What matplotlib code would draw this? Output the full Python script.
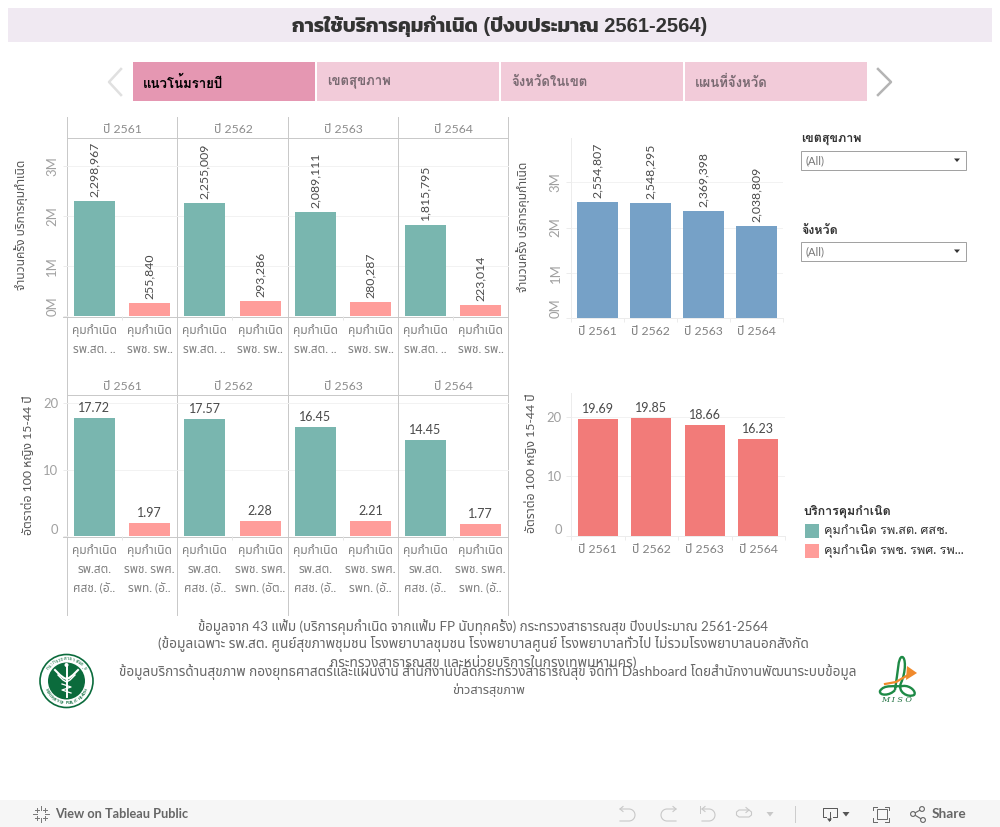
import matplotlib
matplotlib.use('Agg')
import matplotlib.pyplot as plt
from matplotlib.patches import Rectangle, Circle, Polygon, PathPatch
from matplotlib.path import Path
from matplotlib.ticker import FuncFormatter
import numpy as np

plt.rcParams['font.family'] = ['Lato', 'Noto Sans Thai', 'Loma', 'DejaVu Sans']
TITLE_FONT = ['Liberation Sans', 'Kanit', 'Loma', 'DejaVu Sans']
LOOPED = ['Lato', 'Loma', 'Noto Sans Thai', 'DejaVu Sans']

W, H = 1000, 827

# data
title = 'การใช้บริการคุมกำเนิด (ปีงบประมาณ 2561-2564)'
tabs = ['แนวโน้มรายปี', 'เขตสุขภาพ', 'จังหวัดในเขต', 'แผนที่จังหวัด']
years = ['ปี 2561', 'ปี 2562', 'ปี 2563', 'ปี 2564']

count_pcu = [2298967, 2255009, 2089111, 1815795]
count_hosp = [255840, 293286, 280287, 223014]
rate_pcu = [17.72, 17.57, 16.45, 14.45]
rate_hosp = [1.97, 2.28, 2.21, 1.77]
count_total = [2554807, 2548295, 2369398, 2038809]
rate_total = [19.69, 19.85, 18.66, 16.23]

count_ticks = [0, 1000000, 2000000, 3000000]
rate_ticks = [0, 10, 20]

labels_count = ['คุมกำเนิด\nรพ.สต. ..', 'คุมกำเนิด\nรพช. รพ..']
labels_rate = [
    ['คุมกำเนิด\nรพ.สต.\nศสช. (อั..', 'คุมกำเนิด\nรพช. รพศ.\nรพท. (อั..'],
    ['คุมกำเนิด\nรพ.สต.\nศสช. (อั..', 'คุมกำเนิด\nรพช. รพศ.\nรพท. (อัต..'],
    ['คุมกำเนิด\nรพ.สต.\nศสช. (อั..', 'คุมกำเนิด\nรพช. รพศ.\nรพท. (อั..'],
    ['คุมกำเนิด\nรพ.สต.\nศสช. (อั..', 'คุมกำเนิด\nรพช. รพศ.\nรพท. (อั..'],
]
ylabel_count = 'จำนวนครั้ง บริการคุมกำเนิด'
ylabel_rate = 'อัตราต่อ 100 หญิง 15-44 ปี'
legend_title = 'บริการคุมกำเนิด'
legend_items = ['คุมกำเนิด รพ.สต. ศสช.', 'คุมกำเนิด รพช. รพศ. รพ...']
notes = [
    'ข้อมูลจาก 43 แฟ้ม (บริการคุมกำเนิด จากแฟ้ม FP นับทุกครั้ง) กระทรวงสาธารณสุข ปีงบประมาณ 2561-2564',
    '(ข้อมูลเฉพาะ รพ.สต. ศูนย์สุขภาพชุมชน โรงพยาบาลชุมชน โรงพยาบาลศูนย์ โรงพยาบาลทั่วไป ไม่รวมโรงพยาบาลนอกสังกัด',
    'กระทรวงสาธารณสุข และหน่วยบริการในกรุงเทพมหานคร)',
    'ข้อมูลบริการด้านสุขภาพ กองยุทธศาสตร์และแผนงาน สำนักงานปลัดกระทรวงสาธารณสุข จัดทำ Dashboard โดยสำนักงานพัฒนาระบบข้อมูล',
    'ข่าวสารสุขภาพ',
]

TEAL = '#79b6af'
PINK = '#ff9d9a'
BLUE = '#76a1c7'
RED = '#f27b79'
GRID = '#f2f2f2'
LINE = '#c8c8c8'
TICK = '#a0a0a0'
DARK = '#4a4a4a'

fig = plt.figure(figsize=(W / 100, H / 100), dpi=100, facecolor='white')

# everything around the charts is placed in pixels on a full size axes
bg = fig.add_axes([0, 0, 1, 1], zorder=0)
bg.set_xlim(0, W)
bg.set_ylim(H, 0)
bg.axis('off')


def px_axes(x0, y0, x1, y1):
    ax = fig.add_axes([x0 / W, 1 - y1 / H, (x1 - x0) / W, (y1 - y0) / H], zorder=2)
    ax.patch.set_alpha(0)
    for s in ax.spines.values():
        s.set_visible(False)
        s.set_linewidth(0.7)
    ax.set_axisbelow(True)
    ax.grid(axis='y', color=GRID, lw=0.7)
    return ax


def m_fmt(v, pos):
    return '%dM' % round(v / 1e6)


def style_y(ax, ticks, ymax, rotate):
    ax.set_ylim(0, ymax)
    ax.set_yticks(ticks)
    if rotate:
        ax.yaxis.set_major_formatter(FuncFormatter(m_fmt))
    ax.tick_params(axis='y', length=3.6, width=0.7, color='#ececec', labelcolor=TICK,
                   labelsize=9.4, pad=3)
    for t in ax.get_yticklabels():
        if rotate:
            t.set_rotation(90)
            t.set_va('center')
    # lowest label sits above the baseline, as tableau does it
    ax.get_yticklabels()[0].set_va('bottom')


# ---- left small multiples
edges = [67.5, 177.5, 288.5, 398.5, 508.5]
for row, (top, base, ymax, a, b, ticks, fmt) in enumerate([
        (137.5, 316, 3.57e6, count_pcu, count_hosp, count_ticks, '{:,.0f}'),
        (394.5, 536, 21.28, rate_pcu, rate_hosp, rate_ticks, '{:.2f}')]):
    for i in range(4):
        ax = px_axes(edges[i], top, edges[i + 1], base)
        vals = [a[i], b[i]]
        ax.bar([0, 1], vals, width=0.745, color=[TEAL, PINK], zorder=2)
        ax.set_xlim(-0.49, 1.51)
        ax.set_xticks([0, 1])
        ax.set_xticks([0.5], minor=True)
        ax.tick_params(axis='x', which='minor', length=3, width=0.7, color='#e6e6e6')
        if row == 0:
            ax.set_xticklabels(labels_count)
        else:
            ax.set_xticklabels(labels_rate[i])
        ax.tick_params(axis='x', which='major', length=0, labelcolor='#808080',
                       labelsize=8.6, pad=6)
        for t in ax.get_xticklabels():
            t.set_linespacing(1.78)
        style_y(ax, ticks, ymax, row == 0)
        if i > 0:
            ax.tick_params(axis='y', left=False, labelleft=False)
        ax.set_title(years[i], color='#8c8c8c', fontsize=8.8, pad=3.5)
        for x, v in zip([0, 1], vals):
            if row == 0:
                ax.annotate(fmt.format(v), (x, v), xytext=(0, 4), textcoords='offset pixels',
                            rotation=90, ha='center', va='bottom', color=DARK, fontsize=8.8)
            else:
                ax.annotate(fmt.format(v), (x, v), xytext=(0, 4), textcoords='offset pixels',
                            ha='center', va='bottom', color=DARK, fontsize=9)
        if i == 0:
            ax.set_ylabel(ylabel_count if row == 0 else ylabel_rate, color='#555555',
                          fontsize=8.6 if row == 0 else 8.8, va='center')
            ax.yaxis.set_label_coords(21 if row == 0 else 28, 225 if row == 0 else 465,
                                      transform=bg.transData)

# line positions are one pixel line each, agg snaps them
for x in [67, 177, 288, 398, 508]:
    bg.plot([x, x], [117, 615], color=LINE, lw=0.7)
for y in [138, 395]:
    bg.plot([67, 508], [y, y], color=LINE, lw=0.7)
for y in [317, 537]:
    bg.plot([63, 508], [y, y], color=LINE, lw=0.7, zorder=5)

# ---- right totals
for (top, base, x1, ymax, vals, col, ticks, fmt, rot, ylab, lx, ly) in [
        (138, 318, 783, 3.98e6, count_total, BLUE, count_ticks, '{:,.0f}', True, ylabel_count, 523, 227),
        (393, 536, 785, 24.0, rate_total, RED, rate_ticks, '{:.2f}', False, ylabel_rate, 531, 463)]:
    ax = px_axes(571, top, x1, base)
    x = np.arange(4)
    ax.bar(x, vals, width=0.755, color=col, zorder=2)
    ax.set_xlim(-0.5, 3.5)
    ax.set_xticks(x)
    ax.set_xticklabels(years)
    ax.set_xticks(np.arange(-0.5, 4), minor=True)
    ax.tick_params(axis='x', which='minor', length=3, width=0.7, color='#ececec')
    ax.tick_params(axis='x', which='major', length=0, labelcolor='#808080', labelsize=8.8, pad=6)
    style_y(ax, ticks, ymax, rot)
    ax.spines['left'].set_visible(True)
    ax.spines['left'].set_color('#ececec')
    ax.spines['bottom'].set_visible(True)
    ax.spines['bottom'].set_color('#ececec')
    for xi, v in zip(x, vals):
        ax.annotate(fmt.format(v), (xi, v), xytext=(0, 4), textcoords='offset pixels',
                    rotation=90 if rot else 0, ha='center', va='bottom', color=DARK,
                    fontsize=8.8 if rot else 9)
    ax.set_ylabel(ylab, color='#555555', fontsize=8.6 if rot else 8.8, va='center')
    ax.yaxis.set_label_coords(lx, ly, transform=bg.transData)

# ---- title band and tabs
bg.add_patch(Rectangle((8, 8), 984, 34, color='#f0e9f2', lw=0))
bg.text(500, 26, title, ha='center', va='center', fontsize=14.5, fontweight='bold',
        color='#333333', family=TITLE_FONT)
tab_x = [133, 317, 501, 685]
for i, (x, s) in enumerate(zip(tab_x, tabs)):
    bg.add_patch(Rectangle((x, 62), 182, 39, color='#e597b2' if i == 0 else '#f2cbd9', lw=0))
    bg.text(x + 10, 82, s, ha='left', va='center', fontsize=9.5, fontweight='bold',
            color='black' if i == 0 else '#7a6a72', family=LOOPED)
bg.plot([121, 109, 121], [69, 82, 95], color='#e0e0e0', lw=1.8)
bg.plot([878, 891, 878], [69, 82, 95], color='#b4b4b4', lw=1.8)

# ---- filters
for y, s in [(139, 'เขตสุขภาพ'), (230, 'จังหวัด')]:
    bg.text(801, y, s, ha='left', va='center', fontsize=9, fontweight='bold', color='#333333',
            family=LOOPED)
    bg.add_patch(Rectangle((801, y + 12), 165, 18.5, fc='white', ec='#a0a0a0', lw=0.7))
    bg.text(805, y + 21.5, '(All)', ha='left', va='center', fontsize=8, color='#777777')
    bg.add_patch(Polygon([[954, y + 19.5], [960, y + 19.5], [957, y + 23]], color='#333333', lw=0))

# ---- legend
bg.text(803, 511, legend_title, ha='left', va='center', fontsize=9, fontweight='bold',
        color='#333333', family=LOOPED)
for y, c, s in zip([524, 544], [TEAL, PINK], legend_items):
    bg.add_patch(Rectangle((805, y), 14, 14, color=c, lw=0))
    bg.text(824, y + 7.5, s, ha='left', va='center', fontsize=9.1, color='#333333', family=LOOPED)

# ---- notes
for y, s, cx, fs in zip([627, 644, 663, 672, 690], notes, [483, 483, 483, 488, 489],
                        [9.6, 9.85, 9.9, 9.75, 9.2]):
    bg.text(cx, y, s, ha='center', va='center', fontsize=fs, color='#666666')

# ---- ministry logo
GREEN = '#0b6b3c'
lc = (66.5, 681)
bg.add_patch(Circle(lc, 26.5, fc='white', ec=GREEN, lw=1.2))
bg.add_patch(Circle(lc, 18.5, fc=GREEN, ec='none'))
bg.plot([66.5, 66.5], [666, 697], color='white', lw=1.4)
bg.plot([55, 60, 64, 66.5, 69, 73, 78], [670, 675, 678, 679, 678, 675, 670], color='white', lw=1.5)
bg.plot([58, 63, 66.5, 70, 75], [675, 680, 682, 680, 675], color='white', lw=1.0)
bg.plot([62, 71, 62, 71], [684, 687, 690, 693], color='white', lw=0.9)
bg.add_patch(Circle((66.5, 665), 2, fc='white', ec='none'))
for ang, ch in zip(np.linspace(145, 35, 16), 'กระทรวงสาธารณสุข'):
    bg.text(lc[0] + 22.3 * np.cos(np.radians(ang)), lc[1] - 22.3 * np.sin(np.radians(ang)), ch,
            color=GREEN, fontsize=3.4, rotation=ang - 90, ha='center', va='center', fontweight='bold')
for ang, ch in zip(np.linspace(205, 335, 25), 'MINISTRY OF PUBLIC HEALTH'):
    bg.text(lc[0] + 22.3 * np.cos(np.radians(ang)), lc[1] - 22.3 * np.sin(np.radians(ang)), ch,
            color=GREEN, fontsize=2.8, rotation=ang + 90, ha='center', va='center', fontweight='bold')

# ---- MISO logo
ORANGE = '#f08a2c'
MISO = '#1e8a46'
bg.plot([885, 896, 908], [684, 682, 675], color=ORANGE, lw=1.6)
bg.add_patch(Polygon([[907, 666], [917, 673], [906, 680]], color=ORANGE, lw=0))
verts = [(895, 690), (898, 672), (898, 657), (902, 657), (906, 657), (906, 672), (901, 683),
         (897, 692), (908, 698), (914, 695), (917, 692), (910, 685), (903, 686),
         (895, 687), (884, 684), (880, 691), (879, 696), (890, 696), (895, 690)]
codes = [Path.MOVETO] + [Path.CURVE4] * 18
bg.add_patch(PathPatch(Path(verts, codes), fc='none', ec=MISO, lw=1.7))
bg.text(897, 699.5, 'M I S O', ha='center', va='center', fontsize=5.8, style='italic',
        family='DejaVu Serif', color='#1b6e3c')

# ---- toolbar
bg.add_patch(Rectangle((0, 800), W, 27, color='#f6f6f6', lw=0))
bg.text(55, 814, 'View on Tableau Public', ha='left', va='center', fontsize=9.2,
        fontweight='bold', color='#666666')
for dx, dy in [(0, -7), (0, 7), (-7, 0), (7, 0)]:
    bg.plot([41 + dx * 0.6, 41 + dx * 1.15], [814 + dy * 0.6, 814 + dy * 1.15], color='#777777', lw=0.7)
for dx, dy in [(-4, -4), (4, -4), (-4, 4), (4, 4)]:
    bg.plot([41 + dx - 1.8, 41 + dx + 1.8], [814 + dy, 814 + dy], color='#777777', lw=0.7)
    bg.plot([41 + dx, 41 + dx], [814 + dy - 1.8, 814 + dy + 1.8], color='#777777', lw=0.7)

icon = '#c8c8c8'
t = np.radians(np.linspace(-90, 90, 24))
ax_x = 6 * np.cos(t)
ax_y = 6 * np.sin(t)
# undo
bg.plot(np.r_[620, 629 + ax_x[::-1], 620], np.r_[809, 815 - ax_y[::-1], 821], color=icon, lw=0.8)
bg.plot([623, 620, 623], [806.5, 809, 811.5], color=icon, lw=0.8)
# redo
bg.plot(np.r_[676, 667 - ax_x[::-1], 676], np.r_[809, 815 - ax_y[::-1], 821], color=icon, lw=0.8)
bg.plot([673, 676, 673], [806.5, 809, 811.5], color=icon, lw=0.8)
# revert
bg.plot(np.r_[702, 709 + ax_x[::-1], 702], np.r_[809, 815 - ax_y[::-1], 821], color=icon, lw=0.8)
bg.plot([705, 702, 705], [806.5, 809, 811.5], color=icon, lw=0.8)
bg.plot([700, 700], [806, 813], color=icon, lw=0.7)
# refresh
bg.plot([748, 739, 736.5, 736.5, 739, 749, 751.5, 751.5, 749],
        [810, 810, 812, 815, 817, 817, 815, 812, 810], color=icon, lw=0.8)
bg.plot([746, 749, 746], [807.5, 810, 812.5], color=icon, lw=0.8)
bg.add_patch(Polygon([[766.5, 812], [773.5, 812], [770, 816.5]], color=icon, lw=0))
bg.plot([795, 795], [806, 822], color='#cccccc', lw=0.7)
# download
bg.plot([826, 822.5, 822.5, 836.5, 836.5, 833], [817, 817, 807.5, 807.5, 817, 817], color='#555555', lw=0.7)
bg.plot([829.5, 829.5], [812, 820], color='#555555', lw=0.7)
bg.add_patch(Polygon([[827, 818.5], [832, 818.5], [829.5, 822]], color='#555555', lw=0))
bg.add_patch(Polygon([[842.5, 812], [849.5, 812], [846, 816.5]], color='#555555', lw=0))
# fullscreen
bg.add_patch(Rectangle((877, 809), 10, 10, fc='none', ec='#666666', lw=0.7))
bg.plot([873, 873, 877], [810, 806.5, 806.5], color='#666666', lw=0.7)
bg.plot([885, 889, 889], [806.5, 806.5, 810], color='#666666', lw=0.7)
bg.plot([873, 873, 877], [818, 821.5, 821.5], color='#666666', lw=0.7)
bg.plot([885, 889, 889], [821.5, 821.5, 818], color='#666666', lw=0.7)
# share
bg.plot([922, 913, 923], [809, 814, 820], color='#666666', lw=0.8)
for x, y in [(922, 809), (913, 814), (923, 820)]:
    bg.add_patch(Circle((x, y), 2.4, fc='#f6f6f6', ec='#666666', lw=0.8, zorder=3))
bg.text(932, 814, 'Share', ha='left', va='center', fontsize=9.8, fontweight='bold', color='#666666')

fig.savefig('out.png', dpi=100)
